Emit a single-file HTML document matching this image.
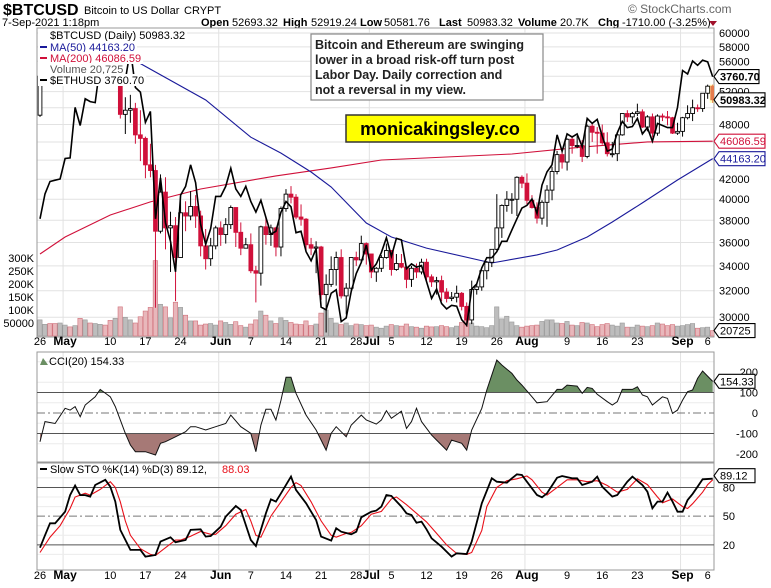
<!DOCTYPE html>
<html><head><meta charset="utf-8"><style>
html,body{margin:0;padding:0;background:#fff;width:771px;height:588px;overflow:hidden}
svg{display:block;font-family:"Liberation Sans",sans-serif}
</style></head><body>
<svg id="chart" width="771" height="588" viewBox="0 0 771 588" xmlns="http://www.w3.org/2000/svg">
<defs>
<clipPath id="cpPrice"><rect x="37" y="28" width="677" height="309"/></clipPath>
<clipPath id="cpCci"><rect x="37" y="352" width="677" height="110"/></clipPath>
<clipPath id="cpSto"><rect x="37" y="463" width="677" height="107"/></clipPath>
<clipPath id="cpAbove"><rect x="37" y="352" width="677" height="40.5"/></clipPath>
<clipPath id="cpBelow"><rect x="37" y="433.5" width="677" height="30"/></clipPath>
</defs>
<g>
<text x="3" y="15" font-size="16" font-weight="bold">$BTCUSD</text>
<text x="84" y="14" font-size="11">Bitcoin to US Dollar</text>
<text x="184" y="14" font-size="11">CRYPT</text>
<text x="2" y="26" font-size="11">7-Sep-2021 1:18pm</text>
<text y="26" font-size="11"><tspan x="201" font-weight="bold">Open</tspan><tspan x="232">52693.32</tspan><tspan x="283" font-weight="bold">High</tspan><tspan x="311">52919.24</tspan><tspan x="360" font-weight="bold">Low</tspan><tspan x="384">50581.76</tspan><tspan x="439" font-weight="bold">Last</tspan><tspan x="467">50983.32</tspan><tspan x="518" font-weight="bold">Volume</tspan><tspan x="560">20.7K</tspan><tspan x="598" font-weight="bold">Chg</tspan><tspan x="622">-1710.00 (-3.25%)</tspan></text>
<polygon points="709,21 717,21 713,26" fill="#a0102a"/>
<text x="628" y="13" font-size="12" fill="#666">© StockCharts.com</text>
</g>
<g id="grid"></g>
<g id="panels"></g>
<g id="marks"></g>
<g id="labels"></g>
<g>
<rect x="311" y="34" width="232" height="66" fill="#fff" stroke="#888" stroke-width="1.2"/>
<text font-size="12.5" font-weight="bold" fill="#222"><tspan x="315" y="49">Bitcoin and Ethereum are swinging</tspan><tspan x="315" y="64">lower in a broad risk-off turn post</tspan><tspan x="315" y="79">Labor Day. Daily correction and</tspan><tspan x="315" y="94">not a reversal in my view.</tspan></text>
<rect x="346" y="115" width="189" height="27" fill="#ffff00" stroke="#333" stroke-width="1.5"/>
<text x="440" y="135" font-size="18" font-weight="bold" text-anchor="middle">monicakingsley.co</text>
</g>
</svg>
<script>
// ---------- DATA ----------
const dates0 = "2021-04-26"; // day index 0
const closes = [54.0,55.0,54.8,53.6,57.7,
57.8,56.6,57.2,53.2,57.5,56.4,57.4,58.9,58.2,55.9,56.7,49.2,49.7,49.9,46.8,46.4,43.5,42.9,37.0,40.7,37.3,37.5,34.7,38.7,38.4,39.3,38.4,35.7,34.6,35.7,37.3,
36.7,37.6,39.2,36.9,35.5,35.8,33.6,33.4,37.4,36.7,37.3,35.6,39.1,40.5,40.2,38.3,38.1,35.8,35.5,35.6,31.7,32.5,33.7,34.7,31.6,32.2,34.7,34.5,35.9,35.0,
33.5,33.8,34.7,35.3,33.7,34.2,33.9,32.9,33.8,33.5,34.3,33.1,32.7,32.8,31.9,31.4,31.5,31.8,30.8,29.8,32.1,32.3,33.6,34.3,35.4,37.3,39.4,40.0,40.0,42.2,41.6,
39.9,39.2,38.2,39.7,40.9,42.8,44.6,43.8,46.3,45.6,45.6,44.4,47.8,47.1,47.0,45.9,44.7,44.7,46.8,49.3,48.9,49.3,49.5,47.7,48.9,47.0,49.0,48.9,48.8,47.0,47.2,
48.8,49.3,50.0,49.9,51.8,52.7,50.98];
const firstOpen = 49.1;
const highs = [54.4,55.5,56.4,55.2,57.9,
58.4,57.9,57.9,57.0,57.9,58.3,58.6,59.5,59.2,59.5,57.7,58.0,51.3,51.6,50.6,49.7,46.6,45.8,43.5,42.5,42.2,38.8,38.3,39.9,39.8,40.8,40.4,38.9,37.2,36.4,37.5,
37.9,38.2,39.4,39.2,37.8,36.4,36.8,34.0,37.5,38.3,37.6,37.4,39.3,41.0,41.3,40.5,39.5,38.2,36.4,36.1,35.7,33.3,34.8,35.2,35.4,32.6,34.7,35.2,36.6,36.0,
35.0,33.9,34.9,35.9,35.3,35.0,35.0,33.9,34.0,34.2,34.6,34.6,33.3,33.1,33.2,32.2,31.9,32.4,31.9,31.1,32.8,32.6,33.6,34.4,35.4,40.5,39.5,40.8,40.6,42.3,42.4,
42.6,40.4,39.7,39.9,41.4,43.3,45.0,45.3,46.4,46.7,46.7,46.2,48.0,48.1,47.7,48.0,47.1,46.0,47.0,49.3,49.7,49.5,50.5,49.8,49.1,49.3,49.2,49.3,49.6,48.9,48.2,
48.9,50.3,51.0,50.4,51.8,52.9,52.9];
const lows = [48.9,53.0,54.3,53.0,53.1,
57.0,56.0,56.3,53.0,53.1,55.9,56.1,56.9,56.3,53.7,54.2,48.7,46.9,48.2,45.8,43.9,42.1,42.2,30.7,36.8,35.4,33.5,31.2,34.8,37.0,38.0,37.3,34.8,33.7,34.0,35.4,
35.7,35.9,37.2,35.6,34.9,35.5,33.4,31.1,32.4,35.8,35.7,34.8,34.8,38.8,39.6,38.1,37.5,35.3,34.9,33.4,31.3,28.9,32.3,32.4,31.4,30.2,32.0,34.0,34.3,34.1,
33.0,32.7,33.5,34.6,33.2,33.6,33.8,32.2,32.3,33.0,33.3,32.7,32.3,31.7,31.2,31.1,31.2,31.1,30.5,29.3,29.5,31.7,32.0,32.9,33.9,35.3,36.4,38.8,38.6,38.4,41.1,
39.5,39.1,37.7,37.6,37.4,39.9,42.5,43.1,42.9,44.7,45.3,43.8,44.2,46.0,44.7,45.7,44.4,44.3,43.9,46.7,48.3,48.1,49.0,47.6,47.2,46.5,46.7,48.4,47.9,46.9,46.8,
46.6,48.6,48.4,49.5,49.5,51.1,50.6];
const volumesK = [62,45,48,48,50,
42,35,40,68,62,50,48,45,42,60,68,112,72,62,50,74,96,110,290,122,112,70,130,110,80,58,58,42,46,48,42,
58,52,45,55,40,34,46,62,96,80,58,48,70,60,52,46,44,58,40,46,88,100,68,50,44,50,40,46,44,40,
42,34,30,38,44,40,38,46,36,34,30,38,35,36,40,36,32,38,52,82,50,38,36,32,40,112,66,76,54,40,34,
38,40,42,56,62,62,50,48,56,42,40,52,50,44,36,44,48,42,38,50,34,34,42,38,36,40,50,46,40,44,38,
40,44,48,30,32,34,20.7];
const ethCloses = [2460,2650,2750,2760,2770,
2945,2950,3430,3250,3520,3490,3480,3900,3930,3950,4170,3780,3720,4080,3640,3590,3280,3390,2460,2780,2430,2300,2100,2640,2710,2890,2740,2420,2280,2390,2630,
2630,2710,2860,2690,2630,2710,2590,2510,2600,2470,2350,2370,2510,2590,2550,2360,2370,2230,2170,2250,1890,1875,1970,1990,1810,1830,1980,2090,2160,2275,
2110,2150,2225,2325,2200,2320,2310,2120,2150,2130,2140,2040,1940,1995,1910,1880,1900,1895,1820,1790,1995,2025,2125,2190,2190,2230,2300,2300,2380,2460,2540,
2560,2610,2500,2720,2830,2890,3160,3010,3170,3140,3170,3050,3320,3270,3310,3150,3010,3030,3180,3290,3230,3240,3320,3170,3230,3100,3270,3250,3230,3230,3430,
3830,3790,3940,3890,3950,3930,3760];
const ma50Days = [16,18,33,42,48,54,58,65,70,77,90,99,103,109,114,120,127,134];
const ma50Vals = [57600,56450,50950,46540,44770,42750,41210,37750,36480,35510,34240,34920,35340,36480,37840,39640,41920,44163];
const ma200Days = [0,5,14,22,32,47,58,68,94,108,121,134];
const ma200Vals = [35000,36480,38490,39740,41010,42340,43180,44020,44670,45430,46000,46087];
const cciDays = [0,1,3,5,6,7,8,9,11,12,14,15,17,18,19,21,23,24,25,27,29,30,31,33,35,37,38,40,42,43,44,45,46,47,48,49,50,51,53,55,57,58,59,61,62,64,65,67,68,69,70,72,73,74,75,76,78,79,81,82,84,85,86,88,89,91,92,94,95,96,98,99,101,103,104,105,107,108,109,110,111,113,114,115,116,118,119,120,121,122,124,125,126,127,128,129,130,131,132,134];
const cciVals = [-140,-42,-51,23,14,31,-18,39,79,115,79,31,-99,-156,-189,-189,-205,-148,-140,-116,-91,-67,-67,-83,-67,-51,-10,-67,-99,-189,-59,18,18,-34,63,174,174,96,-10,-83,-181,-99,-67,-116,-59,-10,-34,-54,-34,11,-26,9,-75,-42,23,-42,-108,-132,-181,-132,-148,-181,-83,23,112,258,234,193,161,136,79,50,55,115,115,136,131,96,125,120,91,55,39,55,115,115,128,88,79,39,79,71,-2,14,63,104,112,169,205,154];
const stoKDays = [0,1,2,3,5,6,7,8,9,10,11,13,14,15,16,18,20,21,23,24,26,27,29,30,32,33,34,36,37,39,40,42,43,45,46,47,48,50,51,53,55,56,58,59,60,62,63,64,66,67,68,69,70,72,73,74,75,76,77,78,80,82,83,85,86,88,90,91,93,94,95,96,97,99,100,101,103,104,106,107,108,110,111,112,114,115,117,118,120,121,122,123,124,125,126,127,128,129,130,131,132,134];
const stoKVals = [17,30,42.5,42.5,54.7,72,81.9,72,72,70.4,82.6,88,80.8,65.2,35.6,14.7,14.7,7.7,9.4,23.4,27.9,22.7,25.1,35.6,36.3,28.6,29.3,39,49.5,60.6,56.5,25.1,18.8,53,67.6,65.2,73.9,91.3,77.4,63.4,46,28.6,24.4,37.3,33.8,31,33.8,48.8,54.7,55.8,60,72.1,71.1,60,53,51.2,43.2,44.3,36.3,26.9,18.1,7.7,11.2,10.5,23.4,63.4,89.5,86,85,89.5,93.7,93,86,72.1,69.7,73.9,90.2,92,89.5,89.5,82.6,86,91.3,80.8,70.4,72.1,86,91.3,82.6,75.6,58.2,65.2,65.2,74.6,65.2,54.7,54.7,66.9,73.2,80.8,88.5,89.1];
const stoDDays = [0,2,4,6,7,9,10,12,14,15,16,17,18,20,22,23,25,27,28,30,32,34,35,37,39,41,42,43,44,46,48,50,51,52,54,56,58,59,61,62,64,66,68,70,71,73,75,77,79,81,83,85,86,88,89,91,93,95,97,98,100,101,103,105,107,109,111,113,115,117,119,121,123,124,126,128,129,130,132,133,134];
const stoDVals = [12,28,40,58,70,74,72,78,86,80,65,45,30,16,10,9,17,25,25,29,34,31,31,40,52,57,45,30,28,50,65,80,85,82,65,45,30,28,32,33,40,52,55,68,70,62,53,44,32,20,11,10,12,35,60,80,87,89,92,88,75,72,80,88,88,86,87,82,75,78,89,83,70,64,68,60,58,63,75,83,88];
const priceTicks = [60000,58000,56000,54000,52000,50000,48000,46000,44000,42000,40000,38000,36000,34000,32000,30000];
const priceTickLabels = ["60000","58000","56000","","52000","","48000","","","42000","40000","38000","36000","34000","32000","30000"];
const volTicks = [300,250,200,150,100,50];
const volTickLabels = ["300K","250K","200K","150K","100K","50000"];
const dateTickDays = [0,5,14,21,28,36,42,49,56,63,66,70,77,84,91,97,105,112,119,128,133];
const dateTickLabels = ["26","May","10","17","24","Jun","7","14","21","28","Jul","5","12","19","26","Aug","9","16","23","Sep","6"];
const monthStartDays = [5,36,66,97,128];
const cciTicks = [200,100,0,-100,-200];
const stoTicks = [80,50,20];
const lastClose = 50983.32, lastEth = 3760.70, lastMa50 = 44163.20, lastMa200 = 46086.59, lastVol = 20725, lastCci = 154.33, lastK = 89.12, lastD = 88.03;

// ---------- AXES ----------
const X0 = 37, X1 = 714;
const xD = d => 40 + 5.02 * d;
const yP = v => 33 + 410 * Math.log(60000 / v);
const yEth = v => 42 + 335 * Math.log(4170 / v);
const yV = k => 336 - k * 0.26;
const yC = v => 413 - 0.205 * v;
const yS = v => 564 - 0.957 * v;

const NS = "http://www.w3.org/2000/svg";
function mk(tag, attrs, parent) {
  const e = document.createElementNS(NS, tag);
  for (const k in attrs) e.setAttribute(k, attrs[k]);
  parent.appendChild(e);
  return e;
}
const grid = document.getElementById("grid");
const panels = document.getElementById("panels");
const marks = document.getElementById("marks");
const labels = document.getElementById("labels");

priceTicks.forEach(v => {
  const l = mk("line", {x1: X0, x2: X1, y1: yP(v), y2: yP(v), stroke: "#e2e2e2"}, grid);
  
  
});
monthStartDays.forEach(d => {
  [[28,337],[352,462],[463,570]].forEach(r => {
    const l = mk("line", {x1: xD(d)-2, x2: xD(d)-2, y1: r[0], y2: r[1], stroke: "#e2e2e2"}, grid);
    
    
  });
});
[250,150,50,-50,-150].forEach(v => {
  const l = mk("line", {x1: X0, x2: X1, y1: yC(v), y2: yC(v), stroke: "#ececec"}, grid);
  
  
});
[10,30,40,60,70,90].forEach(v => {
  const l = mk("line", {x1: X0, x2: X1, y1: yS(v), y2: yS(v), stroke: "#ececec"}, grid);
  
  
});

[[28,337,'price-panel'],[352,462,'cci-panel'],[463,570,'sto-panel']].forEach(p => {
  const r = mk("rect", {x: X0, y: p[0], width: X1 - X0, height: p[1] - p[0], fill: "none", stroke: "#999"}, panels);
  
  
});

const gVol = mk("g", {"clip-path": "url(#cpPrice)"}, marks);


volumesK.forEach((v, i) => {
  const o = i === 0 ? firstOpen : closes[i-1];
  const down = closes[i] < o;
  const r = mk("rect", {x: xD(i) - 2.3, y: yV(v), width: 4.4, height: 336 - yV(v),
    fill: down ? "#e8b7bb" : "#bdbdbd", stroke: down ? "#d0707a" : "#999", "stroke-width": 0.6}, gVol);
  
  
});

function linePath(days, vals, fx, fy) {
  return days.map((d, i) => (i ? "L" : "M") + fx(d).toFixed(1) + "," + fy(vals[i]).toFixed(1)).join("");
}
const gMain = mk("g", {"clip-path": "url(#cpPrice)"}, marks);


const ma200 = mk("path", {d: linePath(ma200Days, ma200Vals, xD, yP), fill: "none", stroke: "#d0103a", "stroke-width": 1.1}, gMain);


const ma50 = mk("path", {d: linePath(ma50Days, ma50Vals, xD, yP), fill: "none", stroke: "#1a1a9a", "stroke-width": 1.1}, gMain);



closes.forEach((c, i) => {
  const o = i === 0 ? firstOpen : closes[i-1];
  const up = c >= o;
  const col = up ? "#000" : "#d0103a";
  const x = xD(i);
  const w = mk("line", {x1: x, x2: x, y1: yP(highs[i]*1000), y2: yP(lows[i]*1000), stroke: col, "stroke-width": 1}, gMain);
  
  
  const top = yP(Math.max(o, c)*1000), bot = yP(Math.min(o, c)*1000);
  const b = mk("rect", {x: x - 1.9, y: top, width: 3.8, height: Math.max(1, bot - top),
    fill: up ? "#fff" : "#d0103a", stroke: col, "stroke-width": 0.9}, gMain);
  
  
});
const hl = mk("rect", {x: xD(134) - 3, y: yP(52900), width: 6, height: yP(50600) - yP(52900), fill: "#ffff66", opacity: 0.45}, gMain);



const eth = mk("path", {d: linePath(ethCloses.map((v,i)=>i), ethCloses, xD, yEth), fill: "none", stroke: "#000", "stroke-width": 1.6}, gMain);



const gC = mk("g", {"clip-path": "url(#cpCci)"}, marks);


const cciLine = linePath(cciDays, cciVals, xD, yC);
const lastX = xD(cciDays[cciDays.length-1]).toFixed(1), firstX = xD(cciDays[0]).toFixed(1);
const fillUp = mk("path", {d: cciLine + "L" + lastX + "," + yC(100) + "L" + firstX + "," + yC(100) + "Z", fill: "#6b8f63", "clip-path": "url(#cpAbove)"}, gC);


const fillDn = mk("path", {d: cciLine + "L" + lastX + "," + yC(-100) + "L" + firstX + "," + yC(-100) + "Z", fill: "#a67976", "clip-path": "url(#cpBelow)"}, gC);


[100,-100].forEach(v => {
  const l = mk("line", {x1: X0, x2: X1, y1: yC(v), y2: yC(v), stroke: "#555", "stroke-width": 1}, gC);
  
  
});
const z = mk("line", {x1: X0, x2: X1, y1: yC(0), y2: yC(0), stroke: "#777", "stroke-dasharray": "8,3,2,3"}, gC);


const cl = mk("path", {d: cciLine, fill: "none", stroke: "#111", "stroke-width": 1}, gC);



const gS = mk("g", {"clip-path": "url(#cpSto)"}, marks);


[80,20].forEach(v => {
  const l = mk("line", {x1: X0, x2: X1, y1: yS(v), y2: yS(v), stroke: "#555"}, gS);
  
  
});
const s50 = mk("line", {x1: X0, x2: X1, y1: yS(50), y2: yS(50), stroke: "#777", "stroke-dasharray": "8,3,2,3"}, gS);


const dl = mk("path", {d: linePath(stoDDays, stoDVals, xD, yS), fill: "none", stroke: "#e8101a", "stroke-width": 1.1}, gS);


const kl = mk("path", {d: linePath(stoKDays, stoKVals, xD, yS), fill: "none", stroke: "#000", "stroke-width": 1.8}, gS);



// ---------- LABELS ----------
function txt(x, y, s, attrs) {
  const t = mk("text", Object.assign({x: x, y: y, "font-size": 11}, attrs || {}), labels);
  t.textContent = s;
  return t;
}
priceTicks.forEach((v, i) => {
  if (!priceTickLabels[i]) return;
  const t = txt(719, yP(v) + 4, priceTickLabels[i]);
  
  
});
volTicks.forEach((v, i) => {
  const t = txt(34, yV(v) + 4, volTickLabels[i], {"text-anchor": "end"});
  
  
});
cciTicks.forEach(v => {
  const t = txt(758, yC(v) + 4, String(v), {"text-anchor": "end"});
  
  
});
stoTicks.forEach(v => {
  const t = txt(735, yS(v) + 4, String(v), {"text-anchor": "end"});
  
  
});
[345, 579].forEach(y => {
  dateTickDays.forEach((d, i) => {
    const isMonth = /[A-Za-z]/.test(dateTickLabels[i]);
    const t = txt(xD(d), y, dateTickLabels[i], {"text-anchor": "middle", "font-weight": isMonth ? "bold" : "normal", "font-size": isMonth ? 12 : 11});
    
    
  });
});
function valueTag(y, s, color, bold, w) {
  const g = mk("g", {}, labels);
  mk("polygon", {points: `714,${y} 719,${y-7} ${719+w},${y-7} ${719+w},${y+7} 719,${y+7}`, fill: "#fff", stroke: color, "stroke-width": 1.1}, g);
  const t = mk("text", {x: 720, y: y + 4, "font-size": 11, "font-weight": bold ? "bold" : "normal", fill: bold ? "#000" : color}, g);
  t.textContent = s;
  return g;
}
let tg;
tg = valueTag(yEth(lastEth), lastEth.toFixed(2), "#000", true, 40);


tg = valueTag(yP(lastClose), lastClose.toFixed(2), "#000", true, 46);


tg = valueTag(yP(lastMa200), lastMa200.toFixed(2), "#d0103a", false, 46);


tg = valueTag(yP(lastMa50), lastMa50.toFixed(2), "#1a1a9a", false, 46);


tg = valueTag(yV(lastVol / 1000), String(lastVol), "#000", false, 36);


tg = valueTag(yC(lastCci), lastCci.toFixed(2), "#000", false, 36);


const redMark = mk("line", {x1: 719, x2: 755, y1: yS(lastD), y2: yS(lastD), stroke: "#e8101a", "stroke-width": 2}, labels);


tg = valueTag(yS(lastK) - 3, lastK.toFixed(2), "#000", false, 36);



// legends with white backgrounds
const lg = [
  [39, "$BTCUSD (Daily) 50983.32", "#000", null],
  [51, "MA(50) 44163.20", "#1a1a9a", "#1a1a9a"],
  [62, "MA(200) 46086.59", "#d0103a", "#d0103a"],
  [73, "Volume 20,725", "#555", null],
  [84, "$ETHUSD 3760.70", "#000", "#000"]
];
lg.forEach(r => {
  const bg = mk("rect", {x: 38, y: r[0] - 10, width: 10, height: 12, fill: "#fff"}, labels);
  
  
  if (r[3]) {
    const d = mk("line", {x1: 40, x2: 47, y1: r[0] - 4, y2: r[0] - 4, stroke: r[3], "stroke-width": 2}, labels);
    
    
  }
  const t = txt(50, r[0], r[1], {fill: r[2]});
  
  
  bg.setAttribute("width", 14 + t.getComputedTextLength());
});
const ci = mk("polygon", {points: "40,365 43,358 46,362 48,365", fill: "#6b8f63"}, labels);


const ct = txt(49, 365, "CCI(20) 154.33");


const sd = mk("line", {x1: 40, x2: 47, y1: 469, y2: 469, stroke: "#000", "stroke-width": 2}, labels);


const st = txt(50, 473, "Slow STO %K(14) %D(3) 89.12, ");


const st2 = txt(222, 473, "88.03", {fill: "#e8101a"});


</script>
</body></html>
